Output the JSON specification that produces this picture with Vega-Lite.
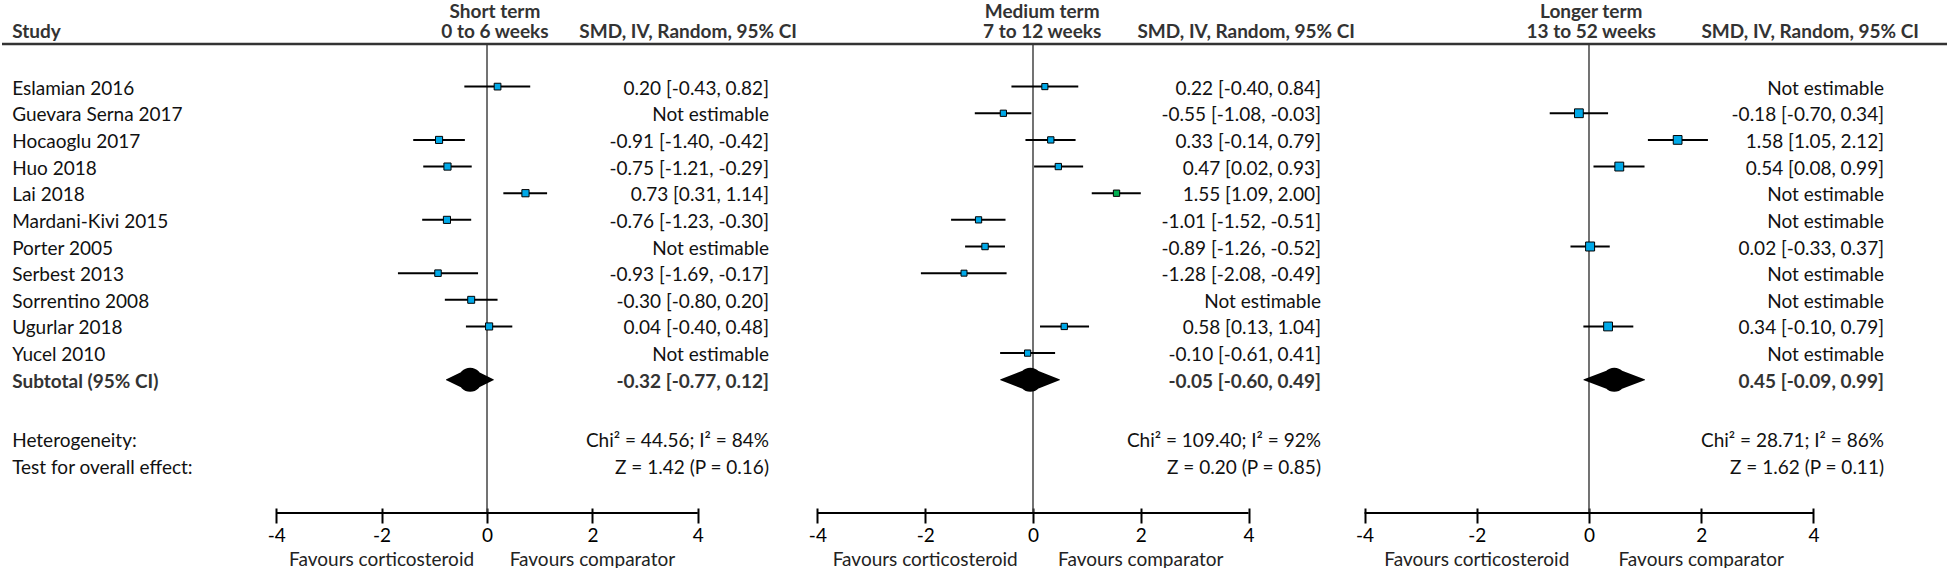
{
  "$schema": "https://vega.github.io/schema/vega-lite/v6.json",
  "padding": 0,
  "spacing": 0,
  "bounds": "flush",
  "background": "white",
  "config": {
    "view": {"stroke": null},
    "text": {"font": "Lato", "fontSize": 19, "color": "#111111", "baseline": "middle"}
  },
  "datasets": {
    "rows": [
      {"period": "Short term", "study": "Eslamian 2016", "row": 1, "type": "study", "smd": 0.20, "lo": -0.43, "hi": 0.82, "w": 11.6, "ci": "0.20 [-0.43, 0.82]"},
      {"period": "Short term", "study": "Guevara Serna 2017", "row": 2, "type": "study", "smd": null, "lo": null, "hi": null, "w": null, "ci": "Not estimable"},
      {"period": "Short term", "study": "Hocaoglu 2017", "row": 3, "type": "study", "smd": -0.91, "lo": -1.40, "hi": -0.42, "w": 12.9, "ci": "-0.91 [-1.40, -0.42]"},
      {"period": "Short term", "study": "Huo 2018", "row": 4, "type": "study", "smd": -0.75, "lo": -1.21, "hi": -0.29, "w": 13.1, "ci": "-0.75 [-1.21, -0.29]"},
      {"period": "Short term", "study": "Lai 2018", "row": 5, "type": "study", "smd": 0.73, "lo": 0.31, "hi": 1.14, "w": 13.3, "ci": "0.73 [0.31, 1.14]"},
      {"period": "Short term", "study": "Mardani-Kivi 2015", "row": 6, "type": "study", "smd": -0.76, "lo": -1.23, "hi": -0.30, "w": 13.0, "ci": "-0.76 [-1.23, -0.30]"},
      {"period": "Short term", "study": "Porter 2005", "row": 7, "type": "study", "smd": null, "lo": null, "hi": null, "w": null, "ci": "Not estimable"},
      {"period": "Short term", "study": "Serbest 2013", "row": 8, "type": "study", "smd": -0.93, "lo": -1.69, "hi": -0.17, "w": 10.9, "ci": "-0.93 [-1.69, -0.17]"},
      {"period": "Short term", "study": "Sorrentino 2008", "row": 9, "type": "study", "smd": -0.30, "lo": -0.80, "hi": 0.20, "w": 12.4, "ci": "-0.30 [-0.80, 0.20]"},
      {"period": "Short term", "study": "Ugurlar 2018", "row": 10, "type": "study", "smd": 0.04, "lo": -0.40, "hi": 0.48, "w": 13.0, "ci": "0.04 [-0.40, 0.48]"},
      {"period": "Short term", "study": "Yucel 2010", "row": 11, "type": "study", "smd": null, "lo": null, "hi": null, "w": null, "ci": "Not estimable"},
      {"period": "Short term", "study": "Subtotal (95% CI)", "row": 12, "type": "sub", "smd": -0.32, "lo": -0.77, "hi": 0.12, "w": null, "ci": "-0.32 [-0.77, 0.12]"},
      {"period": "Short term", "study": "Heterogeneity:", "row": 14, "type": "stat", "ci": "Chi² = 44.56; I² = 84%"},
      {"period": "Short term", "study": "Test for overall effect:", "row": 15, "type": "stat", "ci": "Z = 1.42 (P = 0.16)"},

      {"period": "Medium term", "study": "Eslamian 2016", "row": 1, "type": "study", "smd": 0.22, "lo": -0.40, "hi": 0.84, "w": 9.6, "ci": "0.22 [-0.40, 0.84]"},
      {"period": "Medium term", "study": "Guevara Serna 2017", "row": 2, "type": "study", "smd": -0.55, "lo": -1.08, "hi": -0.03, "w": 10.0, "ci": "-0.55 [-1.08, -0.03]"},
      {"period": "Medium term", "study": "Hocaoglu 2017", "row": 3, "type": "study", "smd": 0.33, "lo": -0.14, "hi": 0.79, "w": 10.2, "ci": "0.33 [-0.14, 0.79]"},
      {"period": "Medium term", "study": "Huo 2018", "row": 4, "type": "study", "smd": 0.47, "lo": 0.02, "hi": 0.93, "w": 10.2, "ci": "0.47 [0.02, 0.93]"},
      {"period": "Medium term", "study": "Lai 2018", "row": 5, "type": "study", "smd": 1.55, "lo": 1.09, "hi": 2.00, "w": 10.2, "ci": "1.55 [1.09, 2.00]"},
      {"period": "Medium term", "study": "Mardani-Kivi 2015", "row": 6, "type": "study", "smd": -1.01, "lo": -1.52, "hi": -0.51, "w": 10.0, "ci": "-1.01 [-1.52, -0.51]"},
      {"period": "Medium term", "study": "Porter 2005", "row": 7, "type": "study", "smd": -0.89, "lo": -1.26, "hi": -0.52, "w": 10.6, "ci": "-0.89 [-1.26, -0.52]"},
      {"period": "Medium term", "study": "Serbest 2013", "row": 8, "type": "study", "smd": -1.28, "lo": -2.08, "hi": -0.49, "w": 9.2, "ci": "-1.28 [-2.08, -0.49]"},
      {"period": "Medium term", "study": "Sorrentino 2008", "row": 9, "type": "study", "smd": null, "lo": null, "hi": null, "w": null, "ci": "Not estimable"},
      {"period": "Medium term", "study": "Ugurlar 2018", "row": 10, "type": "study", "smd": 0.58, "lo": 0.13, "hi": 1.04, "w": 10.2, "ci": "0.58 [0.13, 1.04]"},
      {"period": "Medium term", "study": "Yucel 2010", "row": 11, "type": "study", "smd": -0.10, "lo": -0.61, "hi": 0.41, "w": 10.0, "ci": "-0.10 [-0.61, 0.41]"},
      {"period": "Medium term", "study": "Subtotal (95% CI)", "row": 12, "type": "sub", "smd": -0.05, "lo": -0.60, "hi": 0.49, "w": null, "ci": "-0.05 [-0.60, 0.49]"},
      {"period": "Medium term", "study": "Heterogeneity:", "row": 14, "type": "stat", "ci": "Chi² = 109.40; I² = 92%"},
      {"period": "Medium term", "study": "Test for overall effect:", "row": 15, "type": "stat", "ci": "Z = 0.20 (P = 0.85)"},

      {"period": "Longer term", "study": "Eslamian 2016", "row": 1, "type": "study", "smd": null, "lo": null, "hi": null, "w": null, "ci": "Not estimable"},
      {"period": "Longer term", "study": "Guevara Serna 2017", "row": 2, "type": "study", "smd": -0.18, "lo": -0.70, "hi": 0.34, "w": 19.8, "ci": "-0.18 [-0.70, 0.34]"},
      {"period": "Longer term", "study": "Hocaoglu 2017", "row": 3, "type": "study", "smd": 1.58, "lo": 1.05, "hi": 2.12, "w": 19.6, "ci": "1.58 [1.05, 2.12]"},
      {"period": "Longer term", "study": "Huo 2018", "row": 4, "type": "study", "smd": 0.54, "lo": 0.08, "hi": 0.99, "w": 20.1, "ci": "0.54 [0.08, 0.99]"},
      {"period": "Longer term", "study": "Lai 2018", "row": 5, "type": "study", "smd": null, "lo": null, "hi": null, "w": null, "ci": "Not estimable"},
      {"period": "Longer term", "study": "Mardani-Kivi 2015", "row": 6, "type": "study", "smd": null, "lo": null, "hi": null, "w": null, "ci": "Not estimable"},
      {"period": "Longer term", "study": "Porter 2005", "row": 7, "type": "study", "smd": 0.02, "lo": -0.33, "hi": 0.37, "w": 20.7, "ci": "0.02 [-0.33, 0.37]"},
      {"period": "Longer term", "study": "Serbest 2013", "row": 8, "type": "study", "smd": null, "lo": null, "hi": null, "w": null, "ci": "Not estimable"},
      {"period": "Longer term", "study": "Sorrentino 2008", "row": 9, "type": "study", "smd": null, "lo": null, "hi": null, "w": null, "ci": "Not estimable"},
      {"period": "Longer term", "study": "Ugurlar 2018", "row": 10, "type": "study", "smd": 0.34, "lo": -0.10, "hi": 0.79, "w": 19.9, "ci": "0.34 [-0.10, 0.79]"},
      {"period": "Longer term", "study": "Yucel 2010", "row": 11, "type": "study", "smd": null, "lo": null, "hi": null, "w": null, "ci": "Not estimable"},
      {"period": "Longer term", "study": "Subtotal (95% CI)", "row": 12, "type": "sub", "smd": 0.45, "lo": -0.09, "hi": 0.99, "w": null, "ci": "0.45 [-0.09, 0.99]"},
      {"period": "Longer term", "study": "Heterogeneity:", "row": 14, "type": "stat", "ci": "Chi² = 28.71; I² = 86%"},
      {"period": "Longer term", "study": "Test for overall effect:", "row": 15, "type": "stat", "ci": "Z = 1.62 (P = 0.11)"}
    ]
  },
  "hconcat": [
    {
      "width": 800, "height": 513,
      "resolve": {"scale": {"size": "independent"}},
      "layer": [
        {"data": {"values": [{}]}, "mark": {"type": "rule", "color": "#444444", "strokeWidth": 1.5},
         "encoding": {"x": {"datum": 0, "type": "quantitative", "scale": {"domain": [-9.203, 5.977], "nice": false, "zero": false},
                            "axis": {"values": [-4, -2, 0, 2, 4], "domain": false, "grid": false, "tickSize": 15, "tickWidth": 2, "tickColor": "#000000", "offset": -5, "labelFont": "Lato", "labelFontSize": 19, "labelColor": "#000000", "labelPadding": 3, "labelExpr": "'' + datum.value", "title": null, "labelFlush": false, "labelOverlap": false}},
                      "y": {"datum": -0.6, "type": "quantitative", "scale": {"domain": [-2.25, 17], "reverse": true, "nice": false, "zero": false}, "axis": null},
                      "y2": {"datum": 17}}},
        {"data": {"values": [{}]}, "mark": {"type": "rule", "color": "#333333", "strokeWidth": 2.5},
         "encoding": {"x": {"datum": -9.203, "type": "quantitative", "scale": {"domain": [-9.203, 5.977], "nice": false, "zero": false}},
                      "x2": {"datum": 5.977},
                      "y": {"datum": -0.6, "type": "quantitative", "scale": {"domain": [-2.25, 17], "reverse": true, "nice": false, "zero": false}, "axis": null}}},
        {"data": {"values": [{}]}, "mark": {"type": "rule", "color": "#000000", "strokeWidth": 2},
         "encoding": {"x": {"datum": -4, "type": "quantitative", "scale": {"domain": [-9.203, 5.977], "nice": false, "zero": false}},
                      "x2": {"datum": 4},
                      "y": {"datum": 17, "type": "quantitative", "scale": {"domain": [-2.25, 17], "reverse": true, "nice": false, "zero": false}, "axis": null}}},
        {"data": {"name": "rows"},
         "transform": [{"filter": "datum.period === 'Short term' && datum.type === 'study' && isValid(datum.smd)"}],
         "mark": {"type": "rule", "color": "#000000", "strokeWidth": 2},
         "encoding": {"x": {"field": "lo", "type": "quantitative", "scale": {"domain": [-9.203, 5.977], "nice": false, "zero": false}},
                      "x2": {"field": "hi"},
                      "y": {"field": "row", "type": "quantitative", "scale": {"domain": [-2.25, 17], "reverse": true, "nice": false, "zero": false}, "axis": null}}},
        {"data": {"name": "rows"},
         "transform": [{"filter": "datum.period === 'Short term' && datum.type === 'study' && isValid(datum.smd)"}],
         "mark": {"type": "square", "filled": true, "stroke": "#000000", "strokeWidth": 1, "opacity": 1},
         "encoding": {"x": {"field": "smd", "type": "quantitative", "scale": {"domain": [-9.203, 5.977], "nice": false, "zero": false}},
                      "y": {"field": "row", "type": "quantitative", "scale": {"domain": [-2.25, 17], "reverse": true, "nice": false, "zero": false}, "axis": null},
                      "size": {"field": "w", "type": "quantitative", "scale": {"domain": [0, 20], "range": [0, 78]}, "legend": null},
                      "fill": {"value": "#00A9E8"}}},
        {"data": {"name": "rows"},
         "transform": [{"filter": "datum.period === 'Short term' && datum.type === 'sub'"}, {"fold": ["lo", "smd", "hi"], "as": ["key", "value"]}],
         "mark": {"type": "trail", "color": "#000000"},
         "encoding": {"x": {"field": "value", "type": "quantitative", "scale": {"domain": [-9.203, 5.977], "nice": false, "zero": false}},
                      "y": {"field": "row", "type": "quantitative", "scale": {"domain": [-2.25, 17], "reverse": true, "nice": false, "zero": false}, "axis": null},
                      "size": {"field": "key", "type": "nominal", "scale": {"type": "ordinal", "domain": ["lo", "smd", "hi"], "range": [0, 24, 0]}, "legend": null}}},
        {"data": {"name": "rows"},
         "transform": [{"filter": "datum.period === 'Short term' && datum.type === 'study'"}],
         "mark": {"type": "text", "align": "left", "dy": 2},
         "encoding": {"x": {"datum": -9.01, "type": "quantitative", "scale": {"domain": [-9.203, 5.977], "nice": false, "zero": false}},
                      "y": {"field": "row", "type": "quantitative", "scale": {"domain": [-2.25, 17], "reverse": true, "nice": false, "zero": false}, "axis": null},
                      "text": {"field": "study"}}},
        {"data": {"name": "rows"},
         "transform": [{"filter": "datum.period === 'Short term' && datum.type === 'sub'"}],
         "mark": {"type": "text", "align": "left", "fontWeight": "bold", "color": "#333333", "dy": 2},
         "encoding": {"x": {"datum": -9.01, "type": "quantitative", "scale": {"domain": [-9.203, 5.977], "nice": false, "zero": false}},
                      "y": {"field": "row", "type": "quantitative", "scale": {"domain": [-2.25, 17], "reverse": true, "nice": false, "zero": false}, "axis": null},
                      "text": {"field": "study"}}},
        {"data": {"name": "rows"},
         "transform": [{"filter": "datum.period === 'Short term' && datum.type === 'stat'"}],
         "mark": {"type": "text", "align": "left", "dy": 8},
         "encoding": {"x": {"datum": -9.01, "type": "quantitative", "scale": {"domain": [-9.203, 5.977], "nice": false, "zero": false}},
                      "y": {"field": "row", "type": "quantitative", "scale": {"domain": [-2.25, 17], "reverse": true, "nice": false, "zero": false}, "axis": null},
                      "text": {"field": "study"}}},
        {"data": {"name": "rows"},
         "transform": [{"filter": "datum.period === 'Short term' && datum.type === 'study'"}],
         "mark": {"type": "text", "align": "right", "dy": 2},
         "encoding": {"x": {"datum": 5.35, "type": "quantitative", "scale": {"domain": [-9.203, 5.977], "nice": false, "zero": false}},
                      "y": {"field": "row", "type": "quantitative", "scale": {"domain": [-2.25, 17], "reverse": true, "nice": false, "zero": false}, "axis": null},
                      "text": {"field": "ci"}}},
        {"data": {"name": "rows"},
         "transform": [{"filter": "datum.period === 'Short term' && datum.type === 'sub'"}],
         "mark": {"type": "text", "align": "right", "fontWeight": "bold", "color": "#333333", "dy": 2},
         "encoding": {"x": {"datum": 5.35, "type": "quantitative", "scale": {"domain": [-9.203, 5.977], "nice": false, "zero": false}},
                      "y": {"field": "row", "type": "quantitative", "scale": {"domain": [-2.25, 17], "reverse": true, "nice": false, "zero": false}, "axis": null},
                      "text": {"field": "ci"}}},
        {"data": {"name": "rows"},
         "transform": [{"filter": "datum.period === 'Short term' && datum.type === 'stat'"}],
         "mark": {"type": "text", "align": "right", "dy": 8},
         "encoding": {"x": {"datum": 5.35, "type": "quantitative", "scale": {"domain": [-9.203, 5.977], "nice": false, "zero": false}},
                      "y": {"field": "row", "type": "quantitative", "scale": {"domain": [-2.25, 17], "reverse": true, "nice": false, "zero": false}, "axis": null},
                      "text": {"field": "ci"}}},
        {"data": {"values": [{}]}, "mark": {"type": "text", "align": "left", "fontWeight": "bold", "color": "#333333", "text": "Study"},
         "encoding": {"x": {"datum": -9.01, "type": "quantitative", "scale": {"domain": [-9.203, 5.977], "nice": false, "zero": false}},
                      "y": {"datum": -1.049, "type": "quantitative", "scale": {"domain": [-2.25, 17], "reverse": true, "nice": false, "zero": false}, "axis": null}}},
        {"data": {"values": [{}]}, "mark": {"type": "text", "align": "center", "fontWeight": "bold", "color": "#333333", "text": "Short term"},
         "encoding": {"x": {"datum": 0.15, "type": "quantitative", "scale": {"domain": [-9.203, 5.977], "nice": false, "zero": false}},
                      "y": {"datum": -1.785, "type": "quantitative", "scale": {"domain": [-2.25, 17], "reverse": true, "nice": false, "zero": false}, "axis": null}}},
        {"data": {"values": [{}]}, "mark": {"type": "text", "align": "center", "fontWeight": "bold", "color": "#333333", "text": "0 to 6 weeks"},
         "encoding": {"x": {"datum": 0.15, "type": "quantitative", "scale": {"domain": [-9.203, 5.977], "nice": false, "zero": false}},
                      "y": {"datum": -1.049, "type": "quantitative", "scale": {"domain": [-2.25, 17], "reverse": true, "nice": false, "zero": false}, "axis": null}}},
        {"data": {"values": [{}]}, "mark": {"type": "text", "align": "right", "fontWeight": "bold", "color": "#333333", "text": "SMD, IV, Random, 95% CI"},
         "encoding": {"x": {"datum": 5.88, "type": "quantitative", "scale": {"domain": [-9.203, 5.977], "nice": false, "zero": false}},
                      "y": {"datum": -1.049, "type": "quantitative", "scale": {"domain": [-2.25, 17], "reverse": true, "nice": false, "zero": false}, "axis": null}}},
        {"data": {"values": [{}]}, "mark": {"type": "text", "align": "center", "color": "#222222", "text": "Favours corticosteroid"},
         "encoding": {"x": {"datum": -2, "type": "quantitative", "scale": {"domain": [-9.203, 5.977], "nice": false, "zero": false}},
                      "y": {"datum": 18.76, "type": "quantitative", "scale": {"domain": [-2.25, 17], "reverse": true, "nice": false, "zero": false}, "axis": null}}},
        {"data": {"values": [{}]}, "mark": {"type": "text", "align": "center", "color": "#222222", "text": "Favours comparator"},
         "encoding": {"x": {"datum": 2, "type": "quantitative", "scale": {"domain": [-9.203, 5.977], "nice": false, "zero": false}},
                      "y": {"datum": 18.76, "type": "quantitative", "scale": {"domain": [-2.25, 17], "reverse": true, "nice": false, "zero": false}, "axis": null}}}
      ]
    },
    {
      "width": 554, "height": 513,
      "resolve": {"scale": {"size": "independent"}},
      "layer": [
        {"data": {"values": [{}]}, "mark": {"type": "rule", "color": "#444444", "strokeWidth": 1.5},
         "encoding": {"x": {"datum": 0, "type": "quantitative", "scale": {"domain": [-4.286, 5.993], "nice": false, "zero": false},
                            "axis": {"values": [-4, -2, 0, 2, 4], "domain": false, "grid": false, "tickSize": 15, "tickWidth": 2, "tickColor": "#000000", "offset": -5, "labelFont": "Lato", "labelFontSize": 19, "labelColor": "#000000", "labelPadding": 3, "labelExpr": "'' + datum.value", "title": null, "labelFlush": false, "labelOverlap": false}},
                      "y": {"datum": -0.6, "type": "quantitative", "scale": {"domain": [-2.25, 17], "reverse": true, "nice": false, "zero": false}, "axis": null},
                      "y2": {"datum": 17}}},
        {"data": {"values": [{}]}, "mark": {"type": "rule", "color": "#333333", "strokeWidth": 2.5},
         "encoding": {"x": {"datum": -4.286, "type": "quantitative", "scale": {"domain": [-4.286, 5.993], "nice": false, "zero": false}},
                      "x2": {"datum": 5.993},
                      "y": {"datum": -0.6, "type": "quantitative", "scale": {"domain": [-2.25, 17], "reverse": true, "nice": false, "zero": false}, "axis": null}}},
        {"data": {"values": [{}]}, "mark": {"type": "rule", "color": "#000000", "strokeWidth": 2},
         "encoding": {"x": {"datum": -4, "type": "quantitative", "scale": {"domain": [-4.286, 5.993], "nice": false, "zero": false}},
                      "x2": {"datum": 4},
                      "y": {"datum": 17, "type": "quantitative", "scale": {"domain": [-2.25, 17], "reverse": true, "nice": false, "zero": false}, "axis": null}}},
        {"data": {"name": "rows"},
         "transform": [{"filter": "datum.period === 'Medium term' && datum.type === 'study' && isValid(datum.smd)"}],
         "mark": {"type": "rule", "color": "#000000", "strokeWidth": 2},
         "encoding": {"x": {"field": "lo", "type": "quantitative", "scale": {"domain": [-4.286, 5.993], "nice": false, "zero": false}},
                      "x2": {"field": "hi"},
                      "y": {"field": "row", "type": "quantitative", "scale": {"domain": [-2.25, 17], "reverse": true, "nice": false, "zero": false}, "axis": null}}},
        {"data": {"name": "rows"},
         "transform": [{"filter": "datum.period === 'Medium term' && datum.type === 'study' && isValid(datum.smd)"}],
         "mark": {"type": "square", "filled": true, "stroke": "#000000", "strokeWidth": 1, "opacity": 1},
         "encoding": {"x": {"field": "smd", "type": "quantitative", "scale": {"domain": [-4.286, 5.993], "nice": false, "zero": false}},
                      "y": {"field": "row", "type": "quantitative", "scale": {"domain": [-2.25, 17], "reverse": true, "nice": false, "zero": false}, "axis": null},
                      "size": {"field": "w", "type": "quantitative", "scale": {"domain": [0, 20], "range": [0, 78]}, "legend": null},
                      "fill": {"condition": {"test": "datum.study === 'Lai 2018'", "value": "#00B050"}, "value": "#00A9E8"}}},
        {"data": {"name": "rows"},
         "transform": [{"filter": "datum.period === 'Medium term' && datum.type === 'sub'"}, {"fold": ["lo", "smd", "hi"], "as": ["key", "value"]}],
         "mark": {"type": "trail", "color": "#000000"},
         "encoding": {"x": {"field": "value", "type": "quantitative", "scale": {"domain": [-4.286, 5.993], "nice": false, "zero": false}},
                      "y": {"field": "row", "type": "quantitative", "scale": {"domain": [-2.25, 17], "reverse": true, "nice": false, "zero": false}, "axis": null},
                      "size": {"field": "key", "type": "nominal", "scale": {"type": "ordinal", "domain": ["lo", "smd", "hi"], "range": [0, 24, 0]}, "legend": null}}},
        {"data": {"name": "rows"},
         "transform": [{"filter": "datum.period === 'Medium term' && datum.type === 'study'"}],
         "mark": {"type": "text", "align": "right", "dy": 2},
         "encoding": {"x": {"datum": 5.343, "type": "quantitative", "scale": {"domain": [-4.286, 5.993], "nice": false, "zero": false}},
                      "y": {"field": "row", "type": "quantitative", "scale": {"domain": [-2.25, 17], "reverse": true, "nice": false, "zero": false}, "axis": null},
                      "text": {"field": "ci"}}},
        {"data": {"name": "rows"},
         "transform": [{"filter": "datum.period === 'Medium term' && datum.type === 'sub'"}],
         "mark": {"type": "text", "align": "right", "fontWeight": "bold", "color": "#333333", "dy": 2},
         "encoding": {"x": {"datum": 5.343, "type": "quantitative", "scale": {"domain": [-4.286, 5.993], "nice": false, "zero": false}},
                      "y": {"field": "row", "type": "quantitative", "scale": {"domain": [-2.25, 17], "reverse": true, "nice": false, "zero": false}, "axis": null},
                      "text": {"field": "ci"}}},
        {"data": {"name": "rows"},
         "transform": [{"filter": "datum.period === 'Medium term' && datum.type === 'stat'"}],
         "mark": {"type": "text", "align": "right", "dy": 8},
         "encoding": {"x": {"datum": 5.343, "type": "quantitative", "scale": {"domain": [-4.286, 5.993], "nice": false, "zero": false}},
                      "y": {"field": "row", "type": "quantitative", "scale": {"domain": [-2.25, 17], "reverse": true, "nice": false, "zero": false}, "axis": null},
                      "text": {"field": "ci"}}},
        {"data": {"values": [{}]}, "mark": {"type": "text", "align": "center", "fontWeight": "bold", "color": "#333333", "text": "Medium term"},
         "encoding": {"x": {"datum": 0.17, "type": "quantitative", "scale": {"domain": [-4.286, 5.993], "nice": false, "zero": false}},
                      "y": {"datum": -1.785, "type": "quantitative", "scale": {"domain": [-2.25, 17], "reverse": true, "nice": false, "zero": false}, "axis": null}}},
        {"data": {"values": [{}]}, "mark": {"type": "text", "align": "center", "fontWeight": "bold", "color": "#333333", "text": "7 to 12 weeks"},
         "encoding": {"x": {"datum": 0.17, "type": "quantitative", "scale": {"domain": [-4.286, 5.993], "nice": false, "zero": false}},
                      "y": {"datum": -1.049, "type": "quantitative", "scale": {"domain": [-2.25, 17], "reverse": true, "nice": false, "zero": false}, "axis": null}}},
        {"data": {"values": [{}]}, "mark": {"type": "text", "align": "right", "fontWeight": "bold", "color": "#333333", "text": "SMD, IV, Random, 95% CI"},
         "encoding": {"x": {"datum": 5.974, "type": "quantitative", "scale": {"domain": [-4.286, 5.993], "nice": false, "zero": false}},
                      "y": {"datum": -1.049, "type": "quantitative", "scale": {"domain": [-2.25, 17], "reverse": true, "nice": false, "zero": false}, "axis": null}}},
        {"data": {"values": [{}]}, "mark": {"type": "text", "align": "center", "color": "#222222", "text": "Favours corticosteroid"},
         "encoding": {"x": {"datum": -2, "type": "quantitative", "scale": {"domain": [-4.286, 5.993], "nice": false, "zero": false}},
                      "y": {"datum": 18.76, "type": "quantitative", "scale": {"domain": [-2.25, 17], "reverse": true, "nice": false, "zero": false}, "axis": null}}},
        {"data": {"values": [{}]}, "mark": {"type": "text", "align": "center", "color": "#222222", "text": "Favours comparator"},
         "encoding": {"x": {"datum": 2, "type": "quantitative", "scale": {"domain": [-4.286, 5.993], "nice": false, "zero": false}},
                      "y": {"datum": 18.76, "type": "quantitative", "scale": {"domain": [-2.25, 17], "reverse": true, "nice": false, "zero": false}, "axis": null}}}
      ]
    },
    {
      "width": 593, "height": 513,
      "resolve": {"scale": {"size": "independent"}},
      "layer": [
        {"data": {"values": [{}]}, "mark": {"type": "rule", "color": "#444444", "strokeWidth": 1.5},
         "encoding": {"x": {"datum": 0, "type": "quantitative", "scale": {"domain": [-4.153, 6.417], "nice": false, "zero": false},
                            "axis": {"values": [-4, -2, 0, 2, 4], "domain": false, "grid": false, "tickSize": 15, "tickWidth": 2, "tickColor": "#000000", "offset": -5, "labelFont": "Lato", "labelFontSize": 19, "labelColor": "#000000", "labelPadding": 3, "labelExpr": "'' + datum.value", "title": null, "labelFlush": false, "labelOverlap": false}},
                      "y": {"datum": -0.6, "type": "quantitative", "scale": {"domain": [-2.25, 17], "reverse": true, "nice": false, "zero": false}, "axis": null},
                      "y2": {"datum": 17}}},
        {"data": {"values": [{}]}, "mark": {"type": "rule", "color": "#333333", "strokeWidth": 2.5},
         "encoding": {"x": {"datum": -4.153, "type": "quantitative", "scale": {"domain": [-4.153, 6.417], "nice": false, "zero": false}},
                      "x2": {"datum": 6.417},
                      "y": {"datum": -0.6, "type": "quantitative", "scale": {"domain": [-2.25, 17], "reverse": true, "nice": false, "zero": false}, "axis": null}}},
        {"data": {"values": [{}]}, "mark": {"type": "rule", "color": "#000000", "strokeWidth": 2},
         "encoding": {"x": {"datum": -4, "type": "quantitative", "scale": {"domain": [-4.153, 6.417], "nice": false, "zero": false}},
                      "x2": {"datum": 4},
                      "y": {"datum": 17, "type": "quantitative", "scale": {"domain": [-2.25, 17], "reverse": true, "nice": false, "zero": false}, "axis": null}}},
        {"data": {"name": "rows"},
         "transform": [{"filter": "datum.period === 'Longer term' && datum.type === 'study' && isValid(datum.smd)"}],
         "mark": {"type": "rule", "color": "#000000", "strokeWidth": 2},
         "encoding": {"x": {"field": "lo", "type": "quantitative", "scale": {"domain": [-4.153, 6.417], "nice": false, "zero": false}},
                      "x2": {"field": "hi"},
                      "y": {"field": "row", "type": "quantitative", "scale": {"domain": [-2.25, 17], "reverse": true, "nice": false, "zero": false}, "axis": null}}},
        {"data": {"name": "rows"},
         "transform": [{"filter": "datum.period === 'Longer term' && datum.type === 'study' && isValid(datum.smd)"}],
         "mark": {"type": "square", "filled": true, "stroke": "#000000", "strokeWidth": 1, "opacity": 1},
         "encoding": {"x": {"field": "smd", "type": "quantitative", "scale": {"domain": [-4.153, 6.417], "nice": false, "zero": false}},
                      "y": {"field": "row", "type": "quantitative", "scale": {"domain": [-2.25, 17], "reverse": true, "nice": false, "zero": false}, "axis": null},
                      "size": {"field": "w", "type": "quantitative", "scale": {"domain": [0, 20], "range": [0, 78]}, "legend": null},
                      "fill": {"value": "#00A9E8"}}},
        {"data": {"name": "rows"},
         "transform": [{"filter": "datum.period === 'Longer term' && datum.type === 'sub'"}, {"fold": ["lo", "smd", "hi"], "as": ["key", "value"]}],
         "mark": {"type": "trail", "color": "#000000"},
         "encoding": {"x": {"field": "value", "type": "quantitative", "scale": {"domain": [-4.153, 6.417], "nice": false, "zero": false}},
                      "y": {"field": "row", "type": "quantitative", "scale": {"domain": [-2.25, 17], "reverse": true, "nice": false, "zero": false}, "axis": null},
                      "size": {"field": "key", "type": "nominal", "scale": {"type": "ordinal", "domain": ["lo", "smd", "hi"], "range": [0, 24, 0]}, "legend": null}}},
        {"data": {"name": "rows"},
         "transform": [{"filter": "datum.period === 'Longer term' && datum.type === 'study'"}],
         "mark": {"type": "text", "align": "right", "dy": 2},
         "encoding": {"x": {"datum": 5.258, "type": "quantitative", "scale": {"domain": [-4.153, 6.417], "nice": false, "zero": false}},
                      "y": {"field": "row", "type": "quantitative", "scale": {"domain": [-2.25, 17], "reverse": true, "nice": false, "zero": false}, "axis": null},
                      "text": {"field": "ci"}}},
        {"data": {"name": "rows"},
         "transform": [{"filter": "datum.period === 'Longer term' && datum.type === 'sub'"}],
         "mark": {"type": "text", "align": "right", "fontWeight": "bold", "color": "#333333", "dy": 2},
         "encoding": {"x": {"datum": 5.258, "type": "quantitative", "scale": {"domain": [-4.153, 6.417], "nice": false, "zero": false}},
                      "y": {"field": "row", "type": "quantitative", "scale": {"domain": [-2.25, 17], "reverse": true, "nice": false, "zero": false}, "axis": null},
                      "text": {"field": "ci"}}},
        {"data": {"name": "rows"},
         "transform": [{"filter": "datum.period === 'Longer term' && datum.type === 'stat'"}],
         "mark": {"type": "text", "align": "right", "dy": 8},
         "encoding": {"x": {"datum": 5.258, "type": "quantitative", "scale": {"domain": [-4.153, 6.417], "nice": false, "zero": false}},
                      "y": {"field": "row", "type": "quantitative", "scale": {"domain": [-2.25, 17], "reverse": true, "nice": false, "zero": false}, "axis": null},
                      "text": {"field": "ci"}}},
        {"data": {"values": [{}]}, "mark": {"type": "text", "align": "center", "fontWeight": "bold", "color": "#333333", "text": "Longer term"},
         "encoding": {"x": {"datum": 0.04, "type": "quantitative", "scale": {"domain": [-4.153, 6.417], "nice": false, "zero": false}},
                      "y": {"datum": -1.785, "type": "quantitative", "scale": {"domain": [-2.25, 17], "reverse": true, "nice": false, "zero": false}, "axis": null}}},
        {"data": {"values": [{}]}, "mark": {"type": "text", "align": "center", "fontWeight": "bold", "color": "#333333", "text": "13 to 52 weeks"},
         "encoding": {"x": {"datum": 0.04, "type": "quantitative", "scale": {"domain": [-4.153, 6.417], "nice": false, "zero": false}},
                      "y": {"datum": -1.049, "type": "quantitative", "scale": {"domain": [-2.25, 17], "reverse": true, "nice": false, "zero": false}, "axis": null}}},
        {"data": {"values": [{}]}, "mark": {"type": "text", "align": "right", "fontWeight": "bold", "color": "#333333", "text": "SMD, IV, Random, 95% CI"},
         "encoding": {"x": {"datum": 5.882, "type": "quantitative", "scale": {"domain": [-4.153, 6.417], "nice": false, "zero": false}},
                      "y": {"datum": -1.049, "type": "quantitative", "scale": {"domain": [-2.25, 17], "reverse": true, "nice": false, "zero": false}, "axis": null}}},
        {"data": {"values": [{}]}, "mark": {"type": "text", "align": "center", "color": "#222222", "text": "Favours corticosteroid"},
         "encoding": {"x": {"datum": -2, "type": "quantitative", "scale": {"domain": [-4.153, 6.417], "nice": false, "zero": false}},
                      "y": {"datum": 18.76, "type": "quantitative", "scale": {"domain": [-2.25, 17], "reverse": true, "nice": false, "zero": false}, "axis": null}}},
        {"data": {"values": [{}]}, "mark": {"type": "text", "align": "center", "color": "#222222", "text": "Favours comparator"},
         "encoding": {"x": {"datum": 2, "type": "quantitative", "scale": {"domain": [-4.153, 6.417], "nice": false, "zero": false}},
                      "y": {"datum": 18.76, "type": "quantitative", "scale": {"domain": [-2.25, 17], "reverse": true, "nice": false, "zero": false}, "axis": null}}}
      ]
    }
  ]
}
